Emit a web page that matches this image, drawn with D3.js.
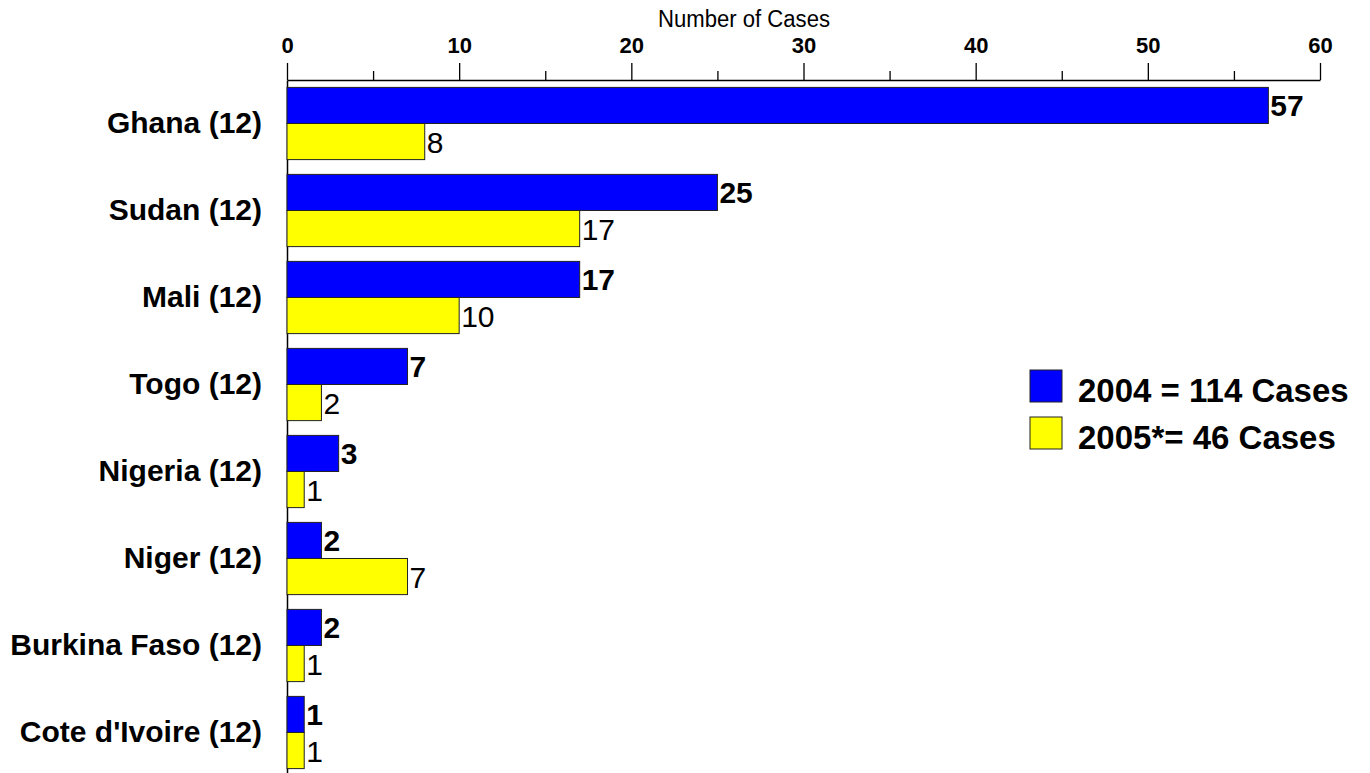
<!DOCTYPE html>
<html>
<head>
<meta charset="utf-8">
<script src="https://cdn.jsdelivr.net/npm/d3@7"></script>
<style>
  html, body { margin: 0; padding: 0; background: #fff; }
  svg { display: block; font-family: Arial, "Liberation Sans", Helvetica, sans-serif; }
</style>
</head>
<body>
<svg id="chart" width="1370" height="773"></svg>
<script>
// Countries, with months of reporting in brackets
const countries = ["Ghana (12)", "Sudan (12)", "Mali (12)", "Togo (12)", "Nigeria (12)",
                   "Niger (12)", "Burkina Faso (12)", "Cote d'Ivoire (12)"];
const cases2004 = [57, 25, 17, 7, 3, 2, 2, 1];
const cases2005 = [8, 17, 10, 2, 1, 7, 1, 1];
const seriesKeys = ["2004", "2005"];
const seriesLabels = ["2004 = 114 Cases", "2005*= 46 Cases"];
const seriesColors = ["#0000FF", "#FFFF00"];
const majorTicks = [0, 10, 20, 30, 40, 50, 60];
const minorTicks = [5, 15, 25, 35, 45, 55];
const axisTitle = "Number of Cases";

const rows = countries.map((c, i) => ({ country: c, values: [cases2004[i], cases2005[i]] }));

const svg = d3.select("#chart");

const x = d3.scaleLinear().domain([0, 60]).range([287, 1320]);
const y = d3.scaleBand().domain(countries).range([80, 776])
  .paddingInner(0.17).paddingOuter(0.085);
const ySub = d3.scaleBand().domain(seriesKeys).range([0, y.bandwidth()]);

// minor ticks on the top axis
svg.append("g")
  .attr("transform", `translate(0,80)`)
  .call(d3.axisTop(x).tickValues(minorTicks).tickSize(9).tickFormat(""))
  .call(g => g.select(".domain").remove())
  .call(g => g.selectAll("line").attr("stroke", "#000").attr("stroke-width", 1.3));

// major ticks and labels
svg.append("g")
  .attr("transform", `translate(0,80)`)
  .call(d3.axisTop(x).tickValues(majorTicks).tickSize(17).tickSizeOuter(0).tickPadding(10))
  .call(g => g.select(".domain").attr("stroke", "#000").attr("stroke-width", 1.5))
  .call(g => g.selectAll("line").attr("stroke", "#000").attr("stroke-width", 1.3))
  .call(g => g.selectAll("text")
    .attr("fill", "#000")
    .style("font-size", "22px")
    .style("font-weight", "bold"));

svg.append("text")
  .attr("x", 744).attr("y", 27)
  .attr("text-anchor", "middle")
  .style("font-size", "23px")
  .attr("textLength", 172)
  .attr("lengthAdjust", "spacingAndGlyphs")
  .text(axisTitle);

// category axis
svg.append("g")
  .attr("transform", `translate(287,0)`)
  .call(d3.axisLeft(y).tickSize(0).tickSizeOuter(0).tickPadding(25))
  .call(g => g.select(".domain").attr("stroke", "#000").attr("stroke-width", 1.5))
  .call(g => g.selectAll("text")
    .attr("fill", "#000")
    .style("font-size", "30px")
    .style("font-weight", "bold"));

// bars
const groups = svg.append("g").selectAll("g")
  .data(rows)
  .join("g")
  .attr("transform", d => `translate(0,${y(d.country)})`);

groups.selectAll("rect")
  .data(d => d.values.map((v, i) => ({ key: seriesKeys[i], value: v, i })))
  .join("rect")
  .attr("x", x(0))
  .attr("y", d => ySub(d.key))
  .attr("width", d => x(d.value) - x(0))
  .attr("height", ySub.bandwidth())
  .attr("fill", d => seriesColors[d.i])
  .attr("stroke", "#222")
  .attr("stroke-width", 1);

groups.selectAll("text.val")
  .data(d => d.values.map((v, i) => ({ key: seriesKeys[i], value: v, i })))
  .join("text")
  .attr("class", "val")
  .attr("x", d => x(d.value) + 2)
  .attr("y", d => ySub(d.key) + ySub.bandwidth() / 2 + 11)
  .style("font-size", "30px")
  .style("font-weight", d => d.i === 0 ? "bold" : "normal")
  .text(d => d.value);

// legend
const legend = svg.append("g").attr("transform", "translate(1030,370)");
const items = legend.selectAll("g")
  .data(seriesLabels)
  .join("g")
  .attr("transform", (d, i) => `translate(0,${i * 47})`);
items.append("rect")
  .attr("width", 32).attr("height", 32)
  .attr("fill", (d, i) => seriesColors[i])
  .attr("stroke", "#222").attr("stroke-width", 1);
items.append("text")
  .attr("x", 48).attr("y", 32)
  .style("font-size", "33px")
  .style("font-weight", "bold")
  .text(d => d);
</script>
</body>
</html>
